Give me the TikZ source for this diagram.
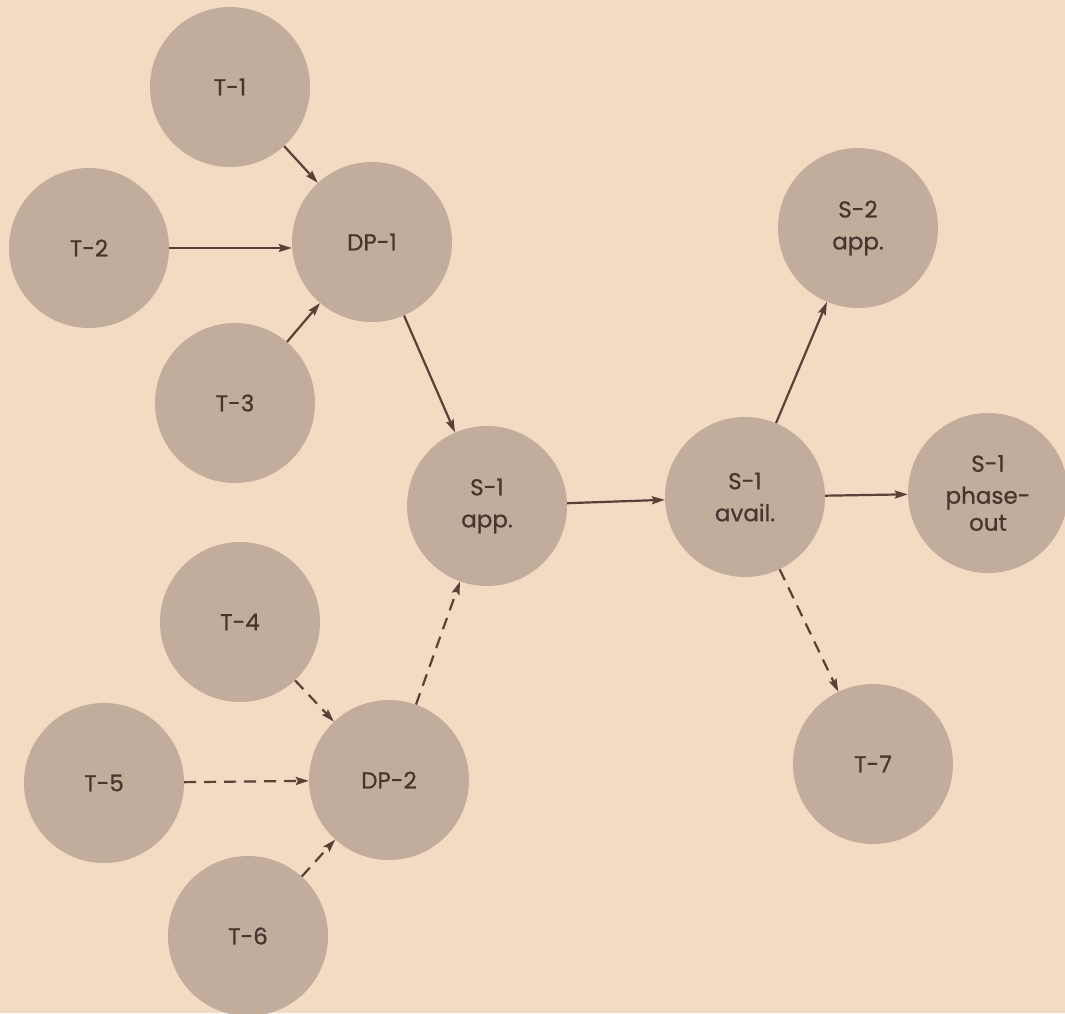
\documentclass[tikz,border=0pt]{standalone}
\usepackage{fontspec}
\setmainfont{Poppins}
\newfontfamily\discfont{Poppins}[FakeBold=0.8]
\usetikzlibrary{arrows.meta}
\definecolor{paper}{HTML}{F2DAC3}
\definecolor{disc}{HTML}{C2AD9C}
\definecolor{ink}{HTML}{46362E}
\definecolor{wire}{HTML}{5A4036}
\tikzset{
  stage/.style={circle, fill=disc, draw=none, minimum size=160pt, inner sep=0pt,
    text=ink, align=center, font=\discfont\fontsize{23}{32}\selectfont},
  link/.style={draw=wire, line width=2.2pt,
    -{Stealth[length=13pt,width=8pt,inset=2pt]}},
  maybe/.style={link, dash pattern=on 12pt off 8pt},
}
\begin{document}
\begin{tikzpicture}[x=1pt,y=-1pt]
  \fill[paper] (0,0) rectangle (1065,1013);
  \useasboundingbox (0,0) rectangle (1065,1013);

  % technology and decision-point discs
  \node[stage] (t1)  at (230,87)  {T-1};
  \node[stage] (t2)  at (89,248)  {T-2};
  \node[stage] (dp1) at (372,242) {DP-1};
  \node[stage] (t3)  at (235,403) {T-3};
  \node[stage] (s1app)   at (487,506) {S-1\\app.};
  \node[stage] (s1avail) at (745,497) {S-1\\avail.};
  \node[stage] (s2app)   at (858,228) {S-2\\app.};
  \node[stage] (s1out)   at (988,493) {S-1\\phase-\\[-5pt]out};
  \node[stage] (t4)  at (240,622) {T-4};
  \node[stage] (t5)  at (104,783) {T-5};
  \node[stage] (dp2) at (389,780) {DP-2};
  \node[stage] (t6)  at (248,936) {T-6};
  \node[stage] (t7)  at (873,764) {T-7};

  % firm dependencies
  \draw[link] (t1) -- (dp1);
  \draw[link] (t2.east |- 0,248) -- (dp1.west |- 0,248);
  \draw[link] (t3) -- (dp1);
  \draw[link] (dp1) -- (s1app);
  \draw[link] (s1app) -- (s1avail);
  \draw[link] (s1avail) -- (s2app);
  \draw[link] (s1avail) -- (s1out);

  % tentative dependencies
  \draw[maybe] (t4) -- (dp2);
  \draw[maybe] (t5) -- (dp2);
  \draw[maybe] (t6) -- (dp2);
  \draw[maybe] (dp2) -- (s1app);
  \draw[maybe] (s1avail) -- (t7);
\end{tikzpicture}
\end{document}
